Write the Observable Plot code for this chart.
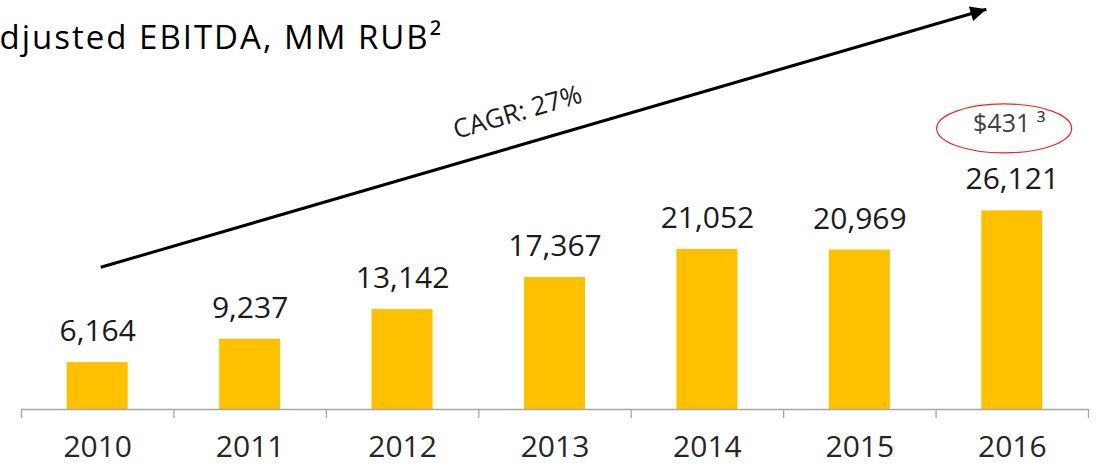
<!DOCTYPE html>
<html><head><meta charset="utf-8">
<script src="https://cdn.jsdelivr.net/npm/d3@7"></script>
<script src="https://cdn.jsdelivr.net/npm/@observablehq/plot@0.6"></script>
<style>html,body{margin:0;padding:0;background:#fff;overflow:hidden}</style>
</head><body><div id="chart"></div>
<script>
const years = [2010, 2011, 2012, 2013, 2014, 2015, 2016];
const ebitda = [6164, 9237, 13142, 17367, 21052, 20969, 26121];
const valueLabels = ["6,164", "9,237", "13,142", "17,367", "21,052", "20,969", "26,121"];
const titleText = "djusted EBITDA, MM RUB²";
const cagrText = "CAGR: 27%";
const usdText = "$431 ³";
// annotation anchors, in data units (year, value)
const arrowStart = {year: 2010.02, value: 18700};
const arrowEnd = {year: 2015.83, value: 52630};
const cagrPos = {year: 2012.755, value: 39050};
const usdPos = {year: 2015.98, value: 37500};
const badgePos = {year: 2015.95, value: 36900};
const arrowAngle = -16.25;

const data = years.map((y, i) => ({year: y, value: ebitda[i], label: valueLabels[i]}));
const edges = [...years.map(y => y - 0.5), years[years.length - 1] + 0.5];

const headSymbol = {
  draw(ctx) { ctx.moveTo(0, 0); ctx.lineTo(-16, -7.5); ctx.lineTo(-16, 7.5); ctx.closePath(); }
};

const plot = Plot.plot({
  width: 1097, height: 467,
  marginLeft: 21, marginRight: 9, marginTop: 6, marginBottom: 58,
  x: {domain: [2009.5, 2016.5], axis: null},
  y: {domain: [0, 53000], axis: null},
  style: {fontFamily: "'Open Sans', sans-serif", color: "#1a1a1a", background: "white", overflow: "visible"},
  marks: [
    Plot.rectY(data, {x1: d => d.year - 0.2, x2: d => d.year + 0.2, y: "value", fill: "#FFC000"}),
    Plot.ruleY([0], {stroke: "#A6A6A6", strokeWidth: 1.3}),
    Plot.ruleX(edges, {x: d => d, y1: 0, y2: -1200, stroke: "#A6A6A6", strokeWidth: 1.3}),
    Plot.text(years, {x: d => d, frameAnchor: "bottom", dy: 47, text: d => String(d), fontSize: 30, fill: "#262626"}),
    Plot.text(data, {x: "year", y: "value", text: "label", dy: -31, fontSize: 30, fill: "#1a1a1a"}),
    Plot.link([{a: arrowStart, b: arrowEnd}], {x1: d => d.a.year, y1: d => d.a.value, x2: d => d.b.year, y2: d => d.b.value, stroke: "black", strokeWidth: 3}),
    Plot.dot([arrowEnd], {x: "year", y: "value", symbol: headSymbol, rotate: arrowAngle, fill: "black"}),
    Plot.text([cagrText], {x: () => cagrPos.year, y: () => cagrPos.value, text: d => d, rotate: arrowAngle, fontSize: 26, fill: "#1a1a1a"}),
    Plot.text([usdText], {x: () => usdPos.year, y: () => usdPos.value, text: d => d, fontSize: 25, fill: "#404040"}),
    Plot.text([titleText], {frameAnchor: "top-left", text: d => d, textAnchor: "start", lineAnchor: "top", dx: -22, dy: 19, fontSize: 33, fill: "#000"})
  ]
});

d3.select(plot).selectAll("text")
  .filter(function() { return this.textContent === titleText; })
  .style("letter-spacing", "2px");

const sx = plot.scale("x"), sy = plot.scale("y");
d3.select(plot).append("ellipse")
  .attr("cx", sx.apply(badgePos.year)).attr("cy", sy.apply(badgePos.value))
  .attr("rx", 67.5).attr("ry", 24.5)
  .attr("fill", "none").attr("stroke", "#E8262A").attr("stroke-width", 1.2);

document.getElementById("chart").appendChild(plot);
</script>
</body></html>
